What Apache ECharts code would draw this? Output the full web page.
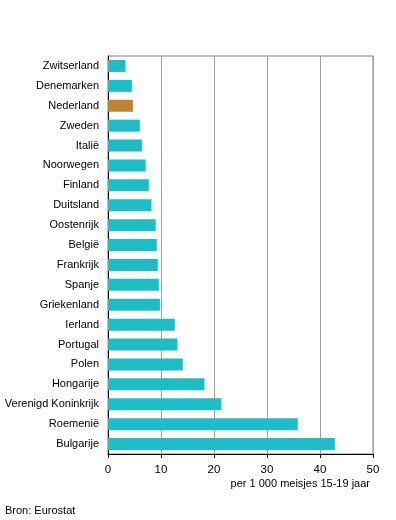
<!DOCTYPE html>
<html><head><meta charset="utf-8">
<script src="https://cdn.jsdelivr.net/npm/echarts@6/dist/echarts.min.js"></script>
<style>html,body{margin:0;padding:0;background:#fff}#c{width:396px;height:520px}</style>
</head><body><div id="c"></div>
<script>
var categories = ["Zwitserland","Denemarken","Nederland","Zweden","Italië","Noorwegen","Finland","Duitsland","Oostenrijk","België","Frankrijk","Spanje","Griekenland","Ierland","Portugal","Polen","Hongarije","Verenigd Koninkrijk","Roemenië","Bulgarije"];
var values = [3.3,4.5,4.7,6.0,6.4,7.1,7.7,8.2,9.0,9.2,9.4,9.6,9.8,12.6,13.1,14.1,18.2,21.4,35.8,42.8];
var highlight = "Nederland";
var axisTitle = "per 1 000 meisjes 15-19 jaar";
var source = "Bron: Eurostat";

var chart = echarts.init(document.getElementById('c'), null, {renderer:'canvas'});
var font = 'Liberation Sans, Arial, sans-serif';
chart.setOption({
  animation:false,
  grid:{left:108,right:23,top:56,bottom:66,show:true,borderColor:'#808080',borderWidth:1},
  xAxis:{type:'value',min:0,max:50,interval:10,
    axisLine:{show:true,lineStyle:{color:'#000',width:1}},
    axisTick:{show:true,length:4,lineStyle:{color:'#000'}},
    splitLine:{show:true,lineStyle:{color:'#a0a0a0',width:1}},
    axisLabel:{color:'#000',fontSize:11.5,fontFamily:font,margin:10}},
  yAxis:{type:'category',data:categories,inverse:true,
    axisLine:{show:true,lineStyle:{color:'#000',width:1}},
    axisTick:{show:false},
    axisLabel:{color:'#000',fontSize:11,fontFamily:font,margin:9}},
  series:[{type:'bar',barWidth:12,
    data:values.map(function(v,i){return {value:v,itemStyle:{color:categories[i]===highlight?'#bb8533':'#1fbcc6'}};})}],
  graphic:[
    {type:'text',right:26,top:478,style:{text:axisTitle,fill:'#000',font:'11px '+font}},
    {type:'text',left:5,top:505,style:{text:source,fill:'#000',font:'11px '+font}}
  ]
});
</script></body></html>
